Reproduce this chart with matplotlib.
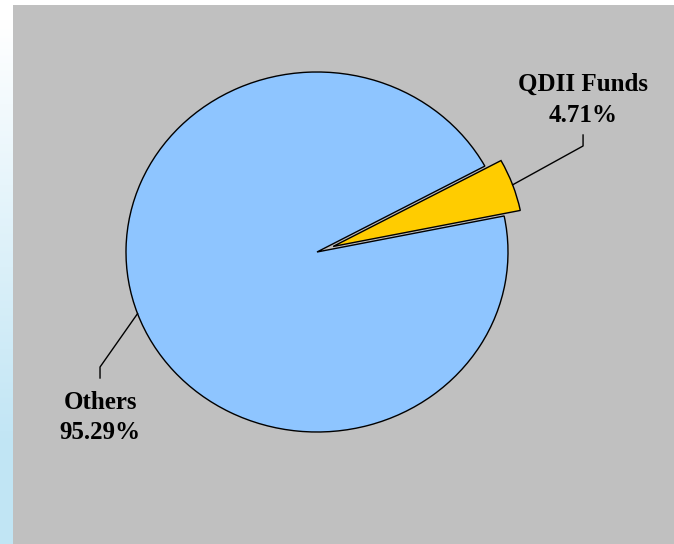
import numpy as np
import matplotlib.pyplot as plt
from matplotlib.patches import Rectangle

# data
labels = ["Others", "QDII Funds"]
shares = [95.29, 4.71]
colors = ["#8ec5ff", "#ffcc00"]
explode = [0.0, 0.09]

W, H = 674, 544
cx, cy = 317, 252          # pie centre in pixels (from top)
RX, RY = 191.0, 180.0      # pie is drawn slightly squashed

fig = plt.figure(figsize=(W / 100, H / 100), dpi=100)
ax = fig.add_axes([0, 0, 1, 1])

xl = (-cx / RX, (W - cx) / RX)
yl = (-(H - cy) / RY, cy / RY)

# left gradient strip (white -> light blue) and grey panel
grad = np.linspace(0, 1, 256).reshape(-1, 1)
top = np.array([1.0, 1.0, 1.0])
bot = np.array([0.76, 0.90, 0.96])
img = top + (bot - top) * np.clip(grad * 1.3 - 0.05, 0, 1)[..., None]
ax.imshow(img, extent=(xl[0], (13 - cx) / RX, yl[0], yl[1]),
          origin="upper", aspect="auto", zorder=0)
ax.add_patch(Rectangle(((13 - cx) / RX, yl[0]), (W - 13) / RX, (H - 5) / RY,
                       facecolor="#c0c0c0", edgecolor="none", zorder=1))

start = 28.5
wedges, _ = ax.pie(shares, colors=colors, explode=explode, startangle=start,
                   radius=1.0, counterclock=True,
                   wedgeprops=dict(edgecolor="black", linewidth=1.0))
for w in wedges:
    w.set_zorder(2)

font = dict(family=["Liberation Serif", "DejaVu Serif"], fontweight="bold",
            fontsize=18, ha="center", va="center", zorder=3)

# leader lines + labels (positions in pie-radius units from centre)
label_pos = {"Others": (-1.136, -0.92), "QDII Funds": (1.393, 0.845)}
elbow_y = {"Others": (-0.639, -0.70), "QDII Funds": (0.589, 0.65)}
for w, lab, val, ex in zip(wedges, labels, shares, explode):
    mid = np.deg2rad((w.theta1 + w.theta2) / 2)
    ox, oy = ex * np.cos(mid), ex * np.sin(mid)
    px, py = ox + np.cos(mid), oy + np.sin(mid)
    tx, ty = label_pos[lab]
    e0, e1 = elbow_y[lab]
    ax.plot([px, tx, tx], [py, e0, e1], color="black", lw=1.0, zorder=3)
    ax.text(tx, ty, f"{lab}\n{val:.2f}%", linespacing=1.42, **font)

ax.set_xlim(*xl)
ax.set_ylim(*yl)
ax.set_aspect("auto")
ax.axis("off")

fig.savefig("out.png", dpi=100)
